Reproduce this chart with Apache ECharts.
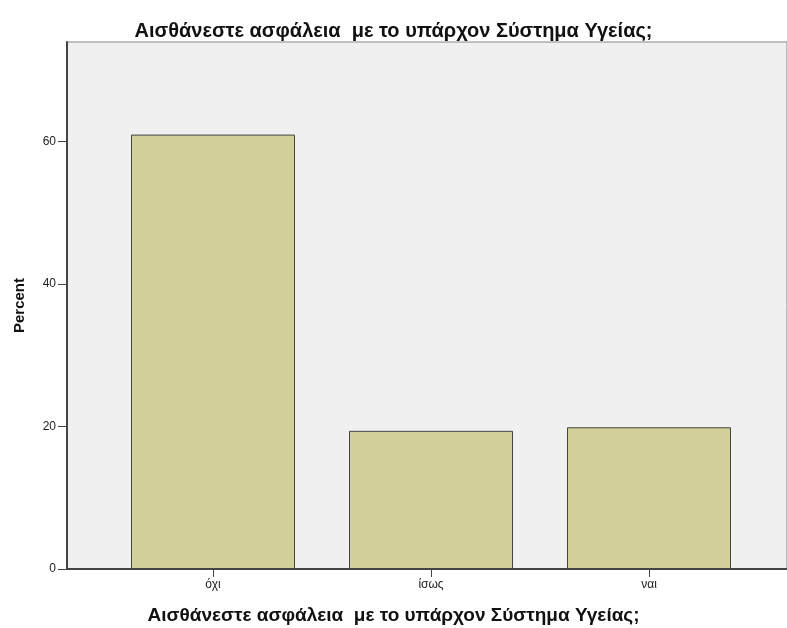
<!DOCTYPE html>
<html>
<head>
<meta charset="utf-8">
<script src="https://cdn.jsdelivr.net/npm/echarts@6/dist/echarts.min.js"></script>
<style>
  html, body { margin: 0; padding: 0; background: #fff; }
  #chart { width: 787px; height: 628px; }
</style>
</head>
<body>
<div id="chart"></div>
<script>
const titleText = 'Αισθάνεστε ασφάλεια  με το υπάρχον Σύστημα Υγείας;'
const categories = ['όχι', 'ίσως', 'ναι']
const percentValues = [61.0, 19.4, 19.9]
const yMax = 74
const yInterval = 20

const chart = echarts.init(document.getElementById('chart'))
const font = '"Liberation Sans", Arial, sans-serif'
const option = {
  animation: false,
  title: [
    {
      text: titleText,
      left: 'center',
      top: 16,
      textStyle: { fontFamily: font, fontSize: 20, fontWeight: 'bold', color: '#111' }
    },
    {
      text: titleText,
      left: 'center',
      top: 601,
      textStyle: { fontFamily: font, fontSize: 19, fontWeight: 'bold', color: '#111' }
    }
  ],
  grid: [
    // background frame
    {
      left: 67, right: 0, top: 42, bottom: 59,
      show: true, backgroundColor: '#f0f0f0',
      borderColor: '#888', borderWidth: 1
    },
    // bars
    { left: 104, right: 29, top: 42, bottom: 59 }
  ],
  xAxis: [
    {
      gridIndex: 0, type: 'category', data: [''],
      axisLine: { lineStyle: { color: '#444', width: 2 } },
      axisTick: { show: false }, axisLabel: { show: false }
    },
    {
      gridIndex: 1, type: 'category', data: categories, position: 'bottom',
      axisLine: { show: true, onZero: false, lineStyle: { color: '#444', width: 2 } },
      axisTick: { show: true, alignWithLabel: true, length: 8, lineStyle: { color: '#444', width: 1 } },
      axisLabel: { fontFamily: font, fontSize: 12, color: '#222', margin: 10 }
    }
  ],
  yAxis: [
    {
      gridIndex: 0, type: 'value', min: 0, max: yMax, interval: yInterval,
      name: 'Percent', nameLocation: 'middle', nameGap: 40,
      nameTextStyle: { fontFamily: font, fontSize: 15, fontWeight: 'bold', color: '#111' },
      axisLine: { show: true, lineStyle: { color: '#444', width: 2 } },
      axisTick: { show: true, length: 9, lineStyle: { color: '#444' } },
      axisLabel: { fontFamily: font, fontSize: 12, color: '#222', margin: 11, showMaxLabel: false },
      splitLine: { show: false }
    },
    {
      gridIndex: 1, type: 'value', min: 0, max: yMax, interval: yInterval,
      show: false, splitLine: { show: false }
    }
  ],
  series: [
    {
      type: 'bar',
      xAxisIndex: 1, yAxisIndex: 1,
      data: percentValues,
      barWidth: 164,
      itemStyle: { color: '#d3cf98', borderColor: '#444', borderWidth: 1 }
    }
  ]
}
chart.setOption(option)
</script>
</body>
</html>
